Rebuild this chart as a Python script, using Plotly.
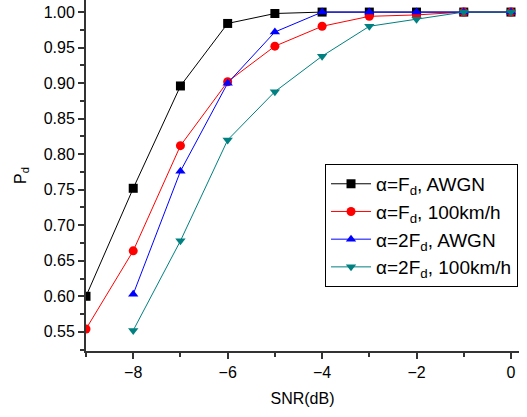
import plotly.graph_objects as go

snr = [-9, -8, -7, -6, -5, -4, -3, -2, -1, 0]
snr_b = [-8, -7, -6, -5, -4, -3, -2, -1, 0]
fd_awgn = [0.600, 0.752, 0.896, 0.984, 0.998, 1.0, 1.0, 1.0, 1.0, 1.0]
fd_100 = [0.554, 0.664, 0.812, 0.902, 0.952, 0.980, 0.994, 0.996, 1.0, 1.0]
fd2_awgn = [0.603, 0.776, 0.900, 0.972, 1.0, 1.0, 1.0, 1.0, 1.0]
fd2_100 = [0.552, 0.678, 0.820, 0.888, 0.938, 0.980, 0.990, 1.0, 1.0]

names = ["α=F<sub>d</sub>, AWGN", "α=F<sub>d</sub>, 100km/h",
         "α=2F<sub>d</sub>, AWGN", "α=2F<sub>d</sub>, 100km/h"]
colors = ["#000000", "#ff0000", "#0000ff", "#008080"]
symbols = ["square", "circle", "triangle-up", "triangle-down"]
xs = [snr, snr, snr_b, snr_b]
ys = [fd_awgn, fd_100, fd2_awgn, fd2_100]

fig = go.Figure()
for x, y, n, c, s in zip(xs, ys, names, colors, symbols):
    fig.add_trace(go.Scatter(x=x, y=y, name=n, mode="lines+markers",
                             line=dict(color=c, width=1),
                             marker=dict(symbol=s, color=c, size=9)))

fig.update_layout(
    width=527, height=417,
    margin=dict(l=86, r=8, t=0, b=66),
    paper_bgcolor="white", plot_bgcolor="white",
    font=dict(family="Liberation Sans, Arial", size=16, color="black"),
    showlegend=True,
    legend=dict(x=0.552, y=0.533, xanchor="left", yanchor="top",
                bordercolor="black", borderwidth=1, bgcolor="white",
                font=dict(size=19), itemwidth=40),
    xaxis=dict(range=[-9, 0.17], tickvals=[-8, -6, -4, -2, 0], automargin=False,
               ticks="outside", ticklen=6, tickwidth=1.5, tickcolor="#333",
               tickfont=dict(size=16),
               minor=dict(tickvals=[-9, -7, -5, -3, -1], ticks="outside", ticklen=4, tickcolor="#333"),
               showline=True, linecolor="#333", linewidth=2, showgrid=False, zeroline=False,
               title=dict(text="SNR(dB)", font=dict(size=16), standoff=13)),
    yaxis=dict(range=[0.523, 1.017], tickvals=[0.55, 0.60, 0.65, 0.70, 0.75, 0.80, 0.85, 0.90, 0.95, 1.00],
               tickformat=".2f", automargin=False,
               ticks="outside", ticklen=6, tickwidth=1.5, tickcolor="#333",
               tickfont=dict(size=16),
               minor=dict(dtick=0.025, tick0=0.525, ticks="outside", ticklen=4, tickcolor="#333"),
               showline=True, linecolor="#333", linewidth=2, showgrid=False, zeroline=False,
               title=dict(text="P<sub>d</sub>", font=dict(size=16), standoff=13)),
)
fig.write_html("out.html", config={"displayModeBar": False},
               post_script="document.body.style.margin='0px';")
